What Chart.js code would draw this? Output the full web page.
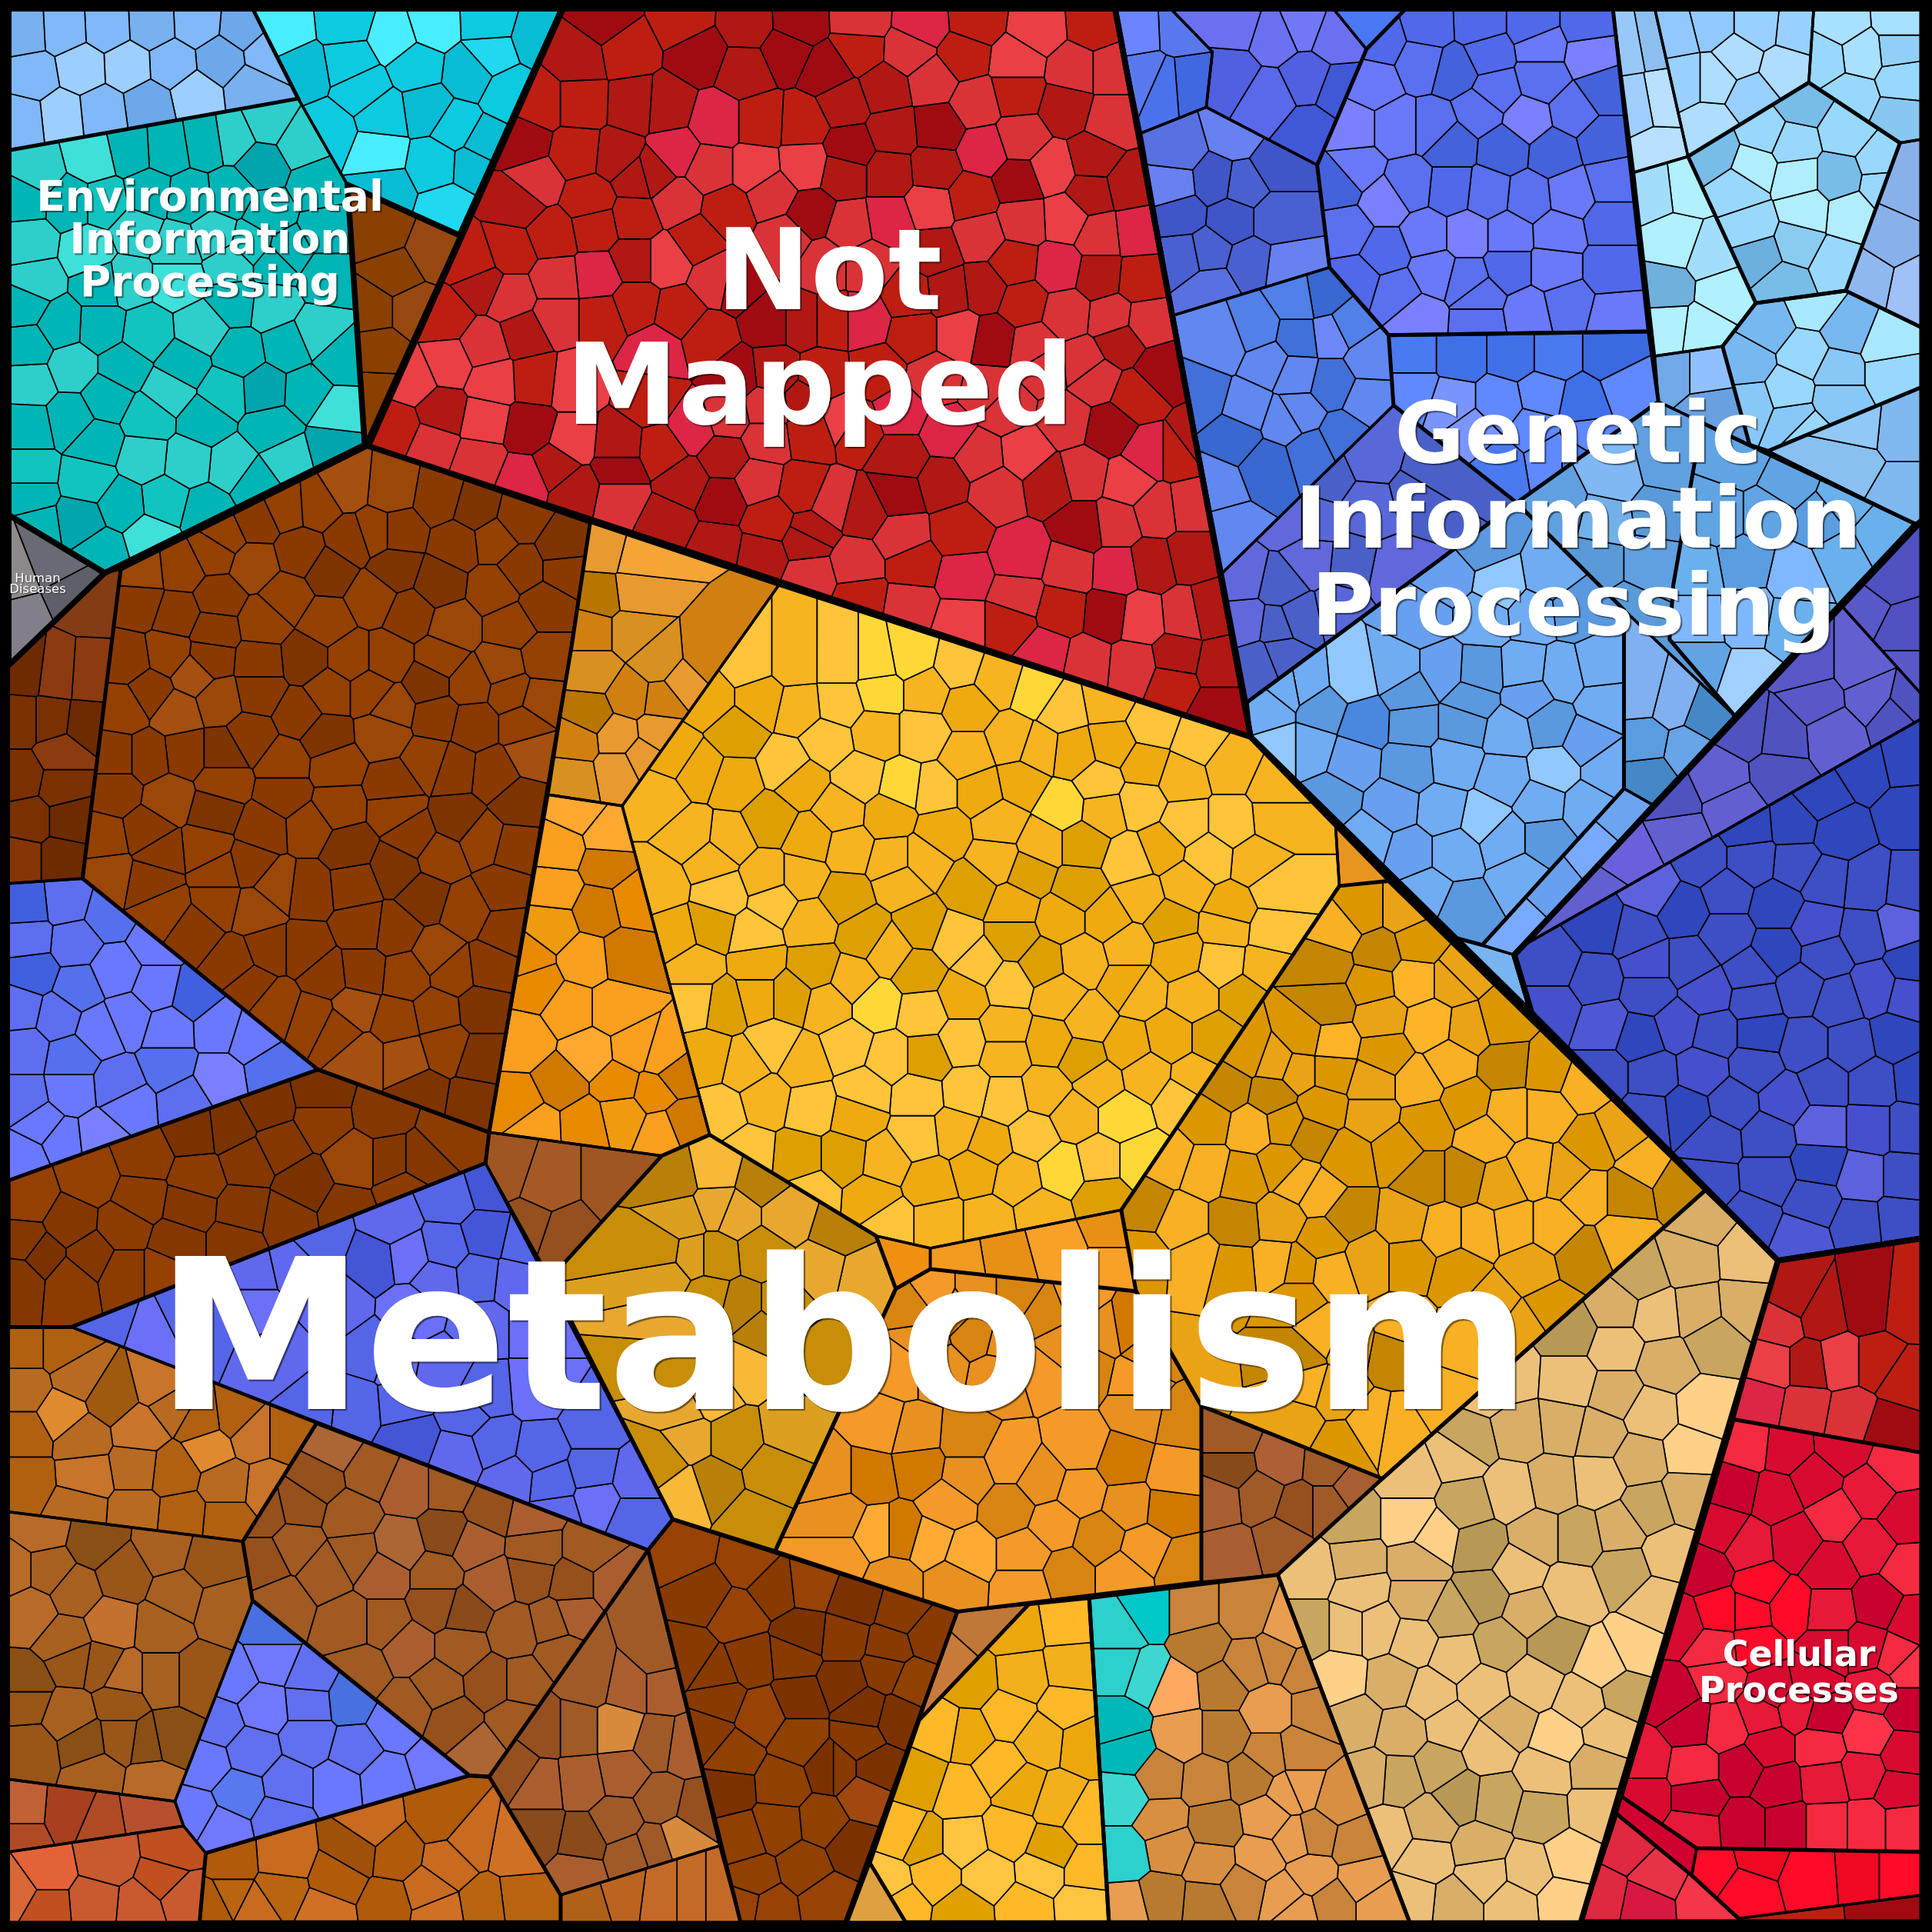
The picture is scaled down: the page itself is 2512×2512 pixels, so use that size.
<!DOCTYPE html>
<html>
<head>
<meta charset="utf-8">
<script src="https://cdn.jsdelivr.net/npm/chart.js@4/dist/chart.umd.js"></script>
<style>html,body{margin:0;background:#000}canvas{display:block}</style>
</head>
<body>
<canvas id="myChart" width="2512" height="2512"></canvas>
<script>
// Cell centres, one list per crop: [x, y, shade], x and y in crop pixels
const cropOrigins = [[0,0],[840,0],[1672,0],[0,840],[840,840],[1672,840],[0,1672],[840,1672],[1672,1672]];
const cropScale = 840 / 1568;

const seedsTopLeft = [
[60,75,2],[155,70,3],[260,65,3],[368,60,2],[478,55,3],[590,65,1],[80,185,3],[198,165,4],[310,160,4],[418,155,3],[535,145,1],[650,130,3],[55,290,3],[148,280,4],[248,270,3],[360,255,1],[475,230,4],[610,215,2],
[690,70,4],[840,55,2],[955,90,4],[1050,60,4],[1185,55,2],[1305,90,1],[735,170,1],[850,150,2],[1010,160,2],[1140,175,1],[1190,130,3],[1235,225,2],[880,215,2],[795,320,2],[930,280,2],[1035,265,1],[1105,310,2],[1175,350,1],[920,370,4],[1055,395,2],[1150,400,1],[930,460,1],[1090,510,3],
[90,420,3],[225,385,4],[315,365,1],[405,360,1],[500,345,1],[565,335,3],[650,295,3],[730,345,3],[635,400,0],[60,480,1],[170,490,1],[255,490,2],[360,470,1],[460,480,1],[560,470,1],[650,520,1],[770,450,1],
[70,590,3],[215,610,4],[330,560,3],[430,600,3],[520,570,3],[610,590,2],[700,610,1],[790,560,1],[85,680,3],[245,690,1],[310,680,3],[430,680,4],[560,640,3],[670,640,1],[790,670,1],
[60,740,1],[145,790,1],[245,795,1],[355,810,2],[490,800,3],[570,730,1],[660,740,3],[770,810,3],[70,840,1],[175,890,3],[300,890,1],[445,885,1],[580,860,1],[700,840,1],[825,870,1],
[75,930,3],[260,965,1],[410,950,3],[545,950,2],[640,945,0],[745,950,1],[820,1000,4],[70,1035,1],[170,1015,1],[360,1015,2],[495,1020,1],[660,1040,1],[810,1085,0],
[70,1145,2],[235,1075,1],[350,1110,3],[455,1120,3],[565,1130,3],[695,1115,3],[70,1200,1],[215,1165,2],[295,1225,1],[400,1215,2],[620,1170,1],[90,1280,1],[195,1265,0],[500,1240,1],[245,1340,1],[365,1305,4],
[35,1400,4],[125,1365,1],[60,1500,3],[170,1450,0],
[925,560,1],[1050,610,3],[960,665,1],[905,750,1],[1000,750,3],[920,850,1],[915,960,1],
[840,1180,4],[950,1190,3],[1065,1210,1],[1155,1235,0],[1260,1260,1],[1365,1330,0],[770,1225,2],[695,1230,2],[620,1265,1],[545,1300,2],
[345,1390,3],[440,1380,2],[520,1340,2],[615,1370,3],[730,1340,1],[850,1310,1],[910,1290,2],[970,1290,1],[1110,1320,1],[1200,1310,2],[1265,1380,1],[1370,1380,1],
[340,1460,1],[430,1490,1],[530,1450,1],[695,1450,2],[800,1385,0],[960,1380,0],[1065,1415,0],[1200,1430,2],[1320,1470,1],[225,1450,4],
[520,1530,1],[640,1510,2],[790,1510,2],[905,1450,2],[995,1490,1],[1100,1520,3],[1240,1520,2],
[1470,1330,3],[1550,1350,4],[1460,1450,0],[1540,1440,3],[1440,1530,1],[1530,1530,2],
[1470,50,0],[1405,140,1],[1520,120,2],[1310,250,2],[1410,250,2],[1540,255,1],[1270,345,0],[1400,370,2],[1500,380,1],[1300,440,3],[1430,485,2],[1545,430,1],[1260,490,1],[1340,570,2],[1445,550,2],[1540,530,2],
[1150,640,2],[1240,610,2],[1170,690,1],[1350,680,3],[1450,670,5],[1540,630,1],[1240,720,3],[1350,770,3],[1460,770,2],[1540,740,2],[1080,770,2],[1175,840,3],[1275,810,1],[1090,880,4],[1000,920,4],[1195,925,4],[1300,920,2],[1390,930,4],
[1075,1000,1],[960,1040,2],[1175,1020,4],[1285,1040,0],[1050,1080,3],[1390,1070,4],[1500,1080,1],[1160,1120,3],[1270,1165,5],[1350,1130,1],[1400,1190,1],[1500,1210,3],[1500,1140,0]
];

const seedsTopMiddle = [
[90,50,2],[245,60,1],[370,55,0],[520,50,3],[670,60,5],[800,50,2],[950,70,4],[1090,60,2],[130,130,0],[240,170,1],[340,125,0],[440,170,0],[515,120,2],[640,125,3],[770,135,2],[900,150,4],[1040,170,3],[1130,170,3],
[50,260,1],[170,295,5],[280,295,2],[380,300,2],[480,250,1],[580,215,1],[695,195,3],[800,250,3],[900,225,2],[1020,260,1],[1130,290,3],[70,370,5],[155,410,3],[265,410,4],[385,400,4],[495,360,0],[600,320,1],[710,310,0],[910,335,3],[1085,385,1],[820,365,5],
[15,420,1],[75,490,3],[195,510,2],[305,470,3],[400,520,0],[480,420,1],[590,420,1],[700,410,1],[790,480,2],[905,440,0],[985,410,4],[1080,470,1],[1170,450,1],[120,580,2],[495,550,3],[590,535,5],[690,500,4],[915,535,3],[1020,530,4],[1100,570,3],[1190,560,5],
[50,630,4],[170,680,3],[340,580,3],[430,640,3],[540,640,3],[700,610,1],[810,570,3],[895,640,2],[1000,650,5],[1100,670,1],[1200,680,2],[80,760,2],[220,690,0],[300,780,0],[380,780,1],[450,780,2],[530,780,5],[640,720,2],[735,710,1],[820,700,1],[915,735,2],[1020,760,3],[1130,770,3],[1215,780,3],
[150,820,2],[650,810,2],[760,810,4],[840,825,0],[940,840,3],[1060,880,3],[1150,830,1],[1250,900,0],[25,850,5],[220,910,0],[310,900,1],[430,910,2],[560,900,2],[700,920,3],[830,950,3],[970,890,3],[1090,920,3],[1190,960,2],
[10,970,2],[110,1040,5],[200,1010,3],[290,990,3],[390,980,1],[480,1020,4],[620,1000,5],[730,1050,5],[870,990,3],[1020,1020,3],[1125,1040,0],[1220,1100,5],[1290,1100,2],[40,1090,2],[190,1110,1],[290,1065,3],[400,1050,2],[510,1040,2],[620,1110,1],[810,1110,3],[920,1100,4],[1060,1150,3],[1170,1170,4],
[95,1170,1],[185,1210,0],[270,1170,3],[380,1190,2],[450,1220,3],[610,1200,0],[720,1170,1],[850,1190,3],[980,1170,1],[1140,1270,3],[1240,1240,3],[1320,1230,3],[50,1270,1],[300,1260,2],[400,1290,1],[530,1240,1],[620,1300,3],[760,1290,2],[1060,1280,0],[1230,1370,1],[1320,1350,1],
[170,1330,1],[280,1350,1],[510,1370,3],[650,1370,2],[770,1400,5],[910,1350,5],[1030,1380,3],[1140,1385,5],[1360,1480,1],[390,1310,1],[400,1400,3],[520,1450,2],[640,1470,3],[765,1510,4],[880,1510,2],[900,1450,3],[1010,1480,2],[1120,1490,0],[1200,1500,4],[1310,1490,3],
[1190,70,3],[1300,65,2],[1210,190,2],[1255,210,1],[1320,205,0],[1430,60,3],[1525,90,3],[1420,180,1],[1510,235,2],
[1290,365,2],[1430,325,3],[1530,400,0],[1280,450,3],[1380,440,0],[1450,450,1],[1300,520,0],[1420,530,0],[1530,530,1],[1360,610,1],[1470,640,1],[1310,620,1],[1370,700,2],[1550,650,3],
[1400,830,3],[1480,800,2],[1350,960,1],[1460,990,3],[1510,880,3],[1330,1070,1],[1430,1060,0],[1550,1020,3],[1380,1180,3],[1510,1130,0],[1410,1290,3],[1560,1260,3],
[1450,1400,3],[1540,1420,1],[1460,1510,3],[1530,1520,1]
];

const seedsTopRight = [
[40,60,4],[120,90,3],[50,190,1],[130,220,0],[60,320,0],[200,60,0],
[230,100,1],[345,65,1],[470,60,1],[600,60,1],[730,60,1],[330,150,2],[410,170,0],[490,130,1],[620,110,3],[740,130,4],[210,200,3],[510,220,2],[620,190,2],[770,220,0],
[160,310,4],[270,310,3],[360,310,2],[470,270,2],[585,290,4],[700,270,2],[770,340,0],[170,410,3],[400,350,0],[530,360,0],[650,370,0],[130,445,0],[300,450,2],[400,460,1],[490,470,2],[590,480,2],[690,470,3],[790,440,2],
[240,490,4],[150,560,2],[340,570,3],[440,570,4],[540,570,3],[660,565,3],[790,540,1],[240,610,1],[440,680,2],[540,650,1],[650,650,3],[790,650,1],[170,680,1],[270,710,2],[360,660,3],[470,720,2],[590,760,3],[680,740,2],[800,770,3],[320,770,4],[470,780,2],
[30,730,2],[90,720,0],[150,790,2],[30,820,1],[110,810,4],[205,870,3],[25,910,3],[110,930,1],[30,1000,3],[200,970,3],[140,1060,1],[60,1100,1],
[210,1110,2],[100,1160,1],[350,1150,1],[70,1260,2],[200,1230,2],[320,1200,1],[60,1360,3],[160,1370,1],[260,1390,3],[30,1500,1],[130,1480,2],
[310,860,2],[420,860,1],[555,860,1],[650,860,2],[790,860,0],[310,950,3],[400,980,4],[520,980,3],[620,960,3],[720,980,1],[830,940,3],[450,1050,4],[600,1040,3],[730,1060,3],[520,1130,2],[640,1110,3],
[830,100,2],[885,90,1],[855,260,3],[910,250,4],[905,365,4],
[950,80,2],[1030,60,2],[1145,60,3],[1240,70,3],[970,190,3],[1040,190,4],[1095,140,4],[1210,170,4],[1130,235,3],[1030,310,4],
[1350,60,4],[1490,50,4],[1310,140,3],[1395,130,4],[1490,120,2],[1500,190,3],[1370,235,3],[1490,290,1],
[1250,250,1],[1160,320,3],[1040,370,1],[1135,405,4],[1230,350,3],[1360,320,3],[1240,430,4],[1340,430,1],[1445,390,3],[1100,460,3],[1260,510,4],[1370,520,4],[1130,550,3],[1150,620,0],[1240,590,2],[1335,640,3],[1210,690,1],
[890,460,3],[975,450,4],[945,590,4],[1030,620,3],[925,700,0],[1060,710,4],[930,790,4],[1010,800,4],
[1450,450,3],[1530,450,1],[1470,590,1],[1420,670,2],[1520,690,3],
[1280,740,4],[1170,790,1],[1260,860,3],[1360,800,1],[1460,840,4],[1120,880,1],[1340,900,2],[1220,950,3],[1340,970,2],[1470,900,3],[1130,980,2],[1230,1020,2],
[945,900,1],[1015,900,2],[1030,1000,0],
[1260,1050,3],[1390,1030,3],[1490,1040,1],[1370,1130,2],[1490,1200,1],
[700,1110,2],[800,1160,3],[920,1130,1],[660,1230,1],[780,1260,2],[900,1240,0],[760,1370,0],[880,1370,1],[830,1480,0],
[1100,1110,1],[1220,1170,1],[1350,1220,2],[1050,1250,1],[1170,1250,1],[1300,1260,0],[1440,1300,2],[1000,1390,2],[1110,1370,0],[1240,1400,3],[1350,1350,2],[1000,1500,3],[1120,1490,3],[1230,1510,2],
[480,1320,1],[390,1400,2],[520,1420,4],[640,1400,3],[330,1500,2],[480,1500,3],[600,1490,3],[700,1480,1],
[1400,1480,2],[1460,1400,1],[1500,1530,1]
];

const seedsMiddleLeft = [
[60,60,0],[140,70,3],[215,75,3],[50,180,1],[125,180,1],[205,190,0],[150,260,3],[50,320,1],[150,340,1],[70,420,1],[170,420,0],[50,520,2],[150,520,0],
[310,35,1],[410,20,2],[510,30,1],[630,40,1],[740,30,0],[850,30,2],[940,30,2],[1070,30,2],[1220,50,3],[1320,30,2],[365,110,1],[470,70,4],[630,110,1],[725,165,1],[800,110,2],[900,110,2],[950,150,3],[1040,90,0],[1140,90,2],[1240,110,2],[1310,130,3],
[300,150,2],[430,160,4],[530,130,3],[610,220,1],[790,220,0],[930,210,3],[1060,170,1],[1150,190,1],[1270,190,2],[1290,260,4],[280,270,1],[360,270,1],[450,260,1],[540,260,0],[690,280,2],[815,290,2],[955,340,1],[1040,280,2],[1100,300,1],[1200,310,1],[1260,380,0],
[280,350,1],[410,370,3],[540,330,2],[690,360,1],[820,390,2],[960,395,2],[1110,420,0],[250,470,2],[360,450,1],[520,400,0],[640,445,1],[750,440,2],[845,490,0],[1000,460,1],[1170,470,2],[1250,490,1],
[390,500,1],[500,490,2],[530,550,2],[670,580,3],[610,530,1],[860,580,1],[960,540,0],[1070,510,2],[1220,590,1],[260,550,3],[370,570,1],[400,640,2],[470,690,1],[530,620,2],[620,640,3],[750,590,1],[1030,610,0],[1130,640,2],[1230,690,1],
[880,680,1],[960,690,1],[1060,745,3],[1190,780,1],[1100,790,2],[740,740,1],[650,740,1],[570,770,1],[790,800,1],[880,790,1],[985,800,2],[670,870,2],[610,820,1],[760,900,2],[820,930,2],[860,880,4],[960,910,2],[1060,890,2],[1170,880,0],[880,1000,4],[980,1000,4],[1080,970,2],[1170,1000,0],[1020,1090,0],[1150,1110,0],
[65,630,0],[160,620,2],[265,650,1],[70,710,2],[180,720,2],[380,720,3],[80,790,0],[280,790,3],[380,830,3],[190,830,1],[470,850,0],[50,880,2],[140,900,2],[240,930,3],[310,900,3],[410,930,3],[530,925,3],[610,950,3],[60,980,2],[170,1000,1],[410,1020,1],[530,1050,4],[660,1030,1],[60,1100,2],[170,1080,3],[290,1070,2],[310,1110,3],[450,1100,2],[100,1160,3],[240,1190,4],[60,1240,3],[150,1200,3],
[780,1090,0],[650,1120,0],[780,1150,2],[930,1130,1],[1090,1180,2],[560,1170,0],[680,1210,1],[470,1180,0],[860,1250,4],[950,1250,1],[1020,1250,1],[980,1320,2],[350,1240,2],[220,1290,3],[480,1290,2],[740,1310,0],[600,1250,1],[840,1370,1],[70,1340,3],[340,1340,2],[170,1400,1],[460,1360,1],[590,1370,1],[700,1390,1],[60,1450,1],[300,1410,2],[100,1480,0],[220,1480,1],[430,1450,1],[570,1450,1],[50,1530,1],[170,1540,2],[300,1520,2],[400,1520,3],
[1190,1310,0],[1090,1340,1],[950,1400,2],[1180,1430,0],[1080,1460,1],[990,1480,3],[910,1490,0],[780,1440,1],[710,1510,2],[1160,1530,1],[1270,1450,1],[1250,1540,2],[1060,1540,2],[620,1530,2],
[1230,1280,2],[1320,1310,3],[1500,1310,2],[1280,1400,1],[1370,1430,1],
[1400,400,4],[1475,460,4],[1360,490,3],[1470,530,0],[1350,590,3],[1450,640,0],[1540,620,1],[1340,680,2],[1280,760,1],[1420,760,3],[1520,750,0],[1300,820,1],[1385,880,3],[1490,880,3],[1270,960,3],[1430,990,4],[1540,980,3],[1360,1060,0],[1500,1060,1],[1260,1110,1],[1300,1165,3],[1420,1160,1],[1510,1140,2],
[1440,60,2],[1430,165,0],[1530,120,1],[1400,230,1],[1500,220,3],[1390,320,2],[1500,300,3],[1560,270,3]
];

const seedsCentre = [
[90,90,3],[30,40,2],[40,130,1],[30,210,3],[150,30,1],
[970,20,5],[1070,40,3],[1180,50,3],[1280,90,2],[1390,150,0],[1290,30,1],[1390,50,1],[1490,40,1],[1540,20,1],[1510,150,3],[1550,100,3],[1540,250,4],
[250,40,3],[360,40,2],[470,40,3],[560,40,4],[640,25,4],[760,50,3],[150,130,1],[280,130,1],[370,150,2],[470,140,3],[570,110,4],[680,110,2],[780,145,1],[850,80,2],[950,110,4],[1010,150,3],[1120,130,2],
[70,260,1],[220,210,0],[440,230,3],[560,210,2],[670,210,3],[780,270,2],[890,230,2],[950,250,2],[1040,260,1],[1130,240,1],[1230,190,3],[1340,230,3],[340,290,3],[130,300,1],[215,330,1],[520,320,3],[620,340,4],[700,350,3],[810,350,1],[910,330,1],[1100,330,3],[1210,290,1],[1300,320,2],[1420,290,2],[1530,340,2],
[30,370,2],[300,420,0],[375,330,1],[470,400,2],[590,410,1],[720,450,1],[860,430,2],[1010,390,4],[1110,400,2],[1200,380,3],[1310,430,3],[1420,430,3],[1530,420,2],[110,460,2],[200,470,2],[400,470,1],[490,490,2],[600,520,2],[670,520,2],[850,520,2],[960,480,2],[1060,480,0],[1175,520,3],[1250,490,1],[1365,510,3],[1480,520,2],
[30,580,2],[160,520,2],[290,560,2],[380,560,2],[480,610,0],[620,570,2],[790,590,0],[930,550,0],[1050,590,0],[1200,610,2],[1310,580,2],[1420,640,1],[1530,590,3],[185,600,3],[310,620,3],[890,630,1],[1010,660,1],[1120,660,1],[1270,670,0],[1410,680,2],[1520,690,3],
[70,700,1],[160,680,0],[260,700,3],[400,670,2],[530,700,0],[590,740,2],[670,680,0],[750,710,3],[890,710,0],[1170,730,2],[1290,750,1],[1400,770,3],[1500,780,2],[120,780,2],[270,770,1],[410,780,0],[500,810,2],[660,790,0],[810,770,3],[960,770,0],[1060,760,2],[1170,820,1],[1330,850,2],[1450,850,0],[1200,840,2],
[120,860,3],[190,870,0],[270,850,1],[350,850,0],[440,870,2],[560,870,4],[670,890,3],[770,850,1],[880,820,3],[1000,850,2],[1075,910,2],[1170,970,1],[1270,950,1],[1380,950,0],[150,1000,1],[240,1020,2],[310,970,3],[380,1010,2],[490,970,3],[590,1000,3],[680,1000,0],[770,960,3],[870,930,2],[870,990,2],[980,960,1],[1060,1000,0],[1215,1040,2],[1330,1050,2],
[180,1130,3],[290,1100,2],[400,1120,3],[530,1080,3],[510,1140,1],[660,1090,3],[780,1080,3],[870,1100,3],[970,1080,2],[1100,1060,2],[1300,1100,3],[250,1230,3],[370,1240,0],[480,1240,0],[580,1250,2],[660,1190,3],[750,1180,2],[830,1210,1],[940,1190,3],[1040,1140,2],[1155,1140,4],
[400,1330,3],[550,1340,1],[590,1400,3],[690,1300,1],[800,1270,1],[900,1290,2],[1010,1270,4],[1100,1250,3],[1200,1250,4],[710,1400,2],[830,1400,2],[960,1380,2],[1110,1340,0],
[40,1000,3],[70,1040,0],[90,1160,0],[40,1180,3],[20,1080,1],
[165,1270,4],[70,1290,0],[280,1300,0],[170,1360,3],[90,1390,2],[220,1380,3],[340,1380,3],[470,1420,0],[40,1470,1],[110,1480,2],[170,1480,1],[280,1470,1],[430,1510,3],[520,1530,3],[50,1530,2],
[625,1510,3],[760,1510,2],[880,1490,1],[990,1460,3],[1130,1400,1],[1130,1520,3],
[1460,985,1],[1530,1010,2],[1410,1070,0],[1520,1090,0],[1360,1150,1],[1470,1170,3],[1550,1160,1],[1270,1240,3],[1360,1270,3],[1450,1290,1],[1540,1260,1],[1210,1360,0],[1300,1400,3],[1430,1400,0],[1540,1390,2],[1200,1480,1],[1340,1490,3],[1420,1510,1],[1530,1500,3]
];

const seedsMiddleRight = [
[50,90,3],[160,80,4],[270,60,3],[380,60,2],[470,65,1],[580,60,3],[760,50,3],[90,150,1],[190,185,0],[300,110,1],[450,130,1],[590,120,2],[670,70,3],[60,250,3],[160,280,2],[310,190,1],[430,190,1],[540,210,3],[640,190,1],[770,140,3],
[300,290,1],[410,280,3],[530,320,3],[650,300,4],[730,230,2],[780,300,3],[110,370,1],[260,390,2],[380,400,3],[480,420,4],[620,380,3],[730,390,3],[200,470,3],[300,500,2],[410,500,3],[530,470,3],[630,470,1],[340,600,3],[430,640,1],[570,560,3],
[815,410,2],[745,490,3],[640,575,1],[550,670,3],[510,780,2],
[860,120,3],[940,140,3],[1020,170,0],[870,230,1],[975,250,2],[880,320,0],[1120,90,4],[1000,50,1],
[1270,50,2],[1390,50,3],[1290,130,2],[1420,120,3],[1200,220,1],[1330,210,3],[1480,170,1],[1120,210,1],[1060,320,3],[1190,310,1],[1090,385,3],[930,380,1],[940,450,3],[840,500,4],[760,620,3],[1500,60,2],[1510,140,1],
[1500,280,0],[1410,300,0],[1300,370,0],[1510,400,0],[1120,440,0],[1235,430,0],[1340,450,0],[1010,520,1],[1130,520,1],[1240,530,1],[1310,570,1],[1410,580,1],[1510,590,1],
[890,590,4],[965,640,0],[1070,600,1],[1190,630,0],[1290,680,2],[1400,700,1],[1490,680,4],[760,680,0],[850,700,1],[1070,700,1],[1190,740,0],[1310,750,1],[1520,770,0],
[650,770,1],[750,810,1],[880,770,2],[980,770,1],[1130,790,1],[1250,830,1],[1340,860,1],[1430,830,2],[1510,850,2],[650,880,2],[770,920,3],[880,840,1],[1020,840,2],[1140,860,1],
[860,950,0],[950,920,2],[1040,940,1],[1150,940,0],[1260,970,1],[1370,970,1],[1480,950,0],[1530,1050,0],[770,1040,1],[890,1040,1],[1010,1030,2],[1140,1020,1],[1305,1060,1],[1425,1060,1],
[970,1130,0],[880,1140,1],[1085,1110,1],[1210,1100,2],[1300,1170,4],[1420,1170,2],[1510,1170,1],[1040,1200,1],[1170,1190,1],[1295,1255,0],[1400,1290,4],[1500,1290,1],[1030,1300,1],[1170,1290,1],[1280,1350,1],[1390,1400,1],[1490,1390,1],[1130,1390,1],[1250,1440,3],
[180,520,1],[185,640,1],[285,640,2],[125,690,3],[225,745,0],[320,720,1],[410,810,2],[100,770,0],[210,820,1],[310,810,4],[420,800,2],[105,870,0],[230,900,2],[350,920,4],[445,930,2],[40,950,1],[115,965,4],[240,990,1],[400,1010,3],[520,910,1],[30,1030,2],
[110,1030,1],[210,1060,2],[320,1060,3],[440,1110,1],[530,1020,0],[640,1030,1],[85,1120,1],[210,1140,2],[340,1160,1],[480,1190,3],[540,1130,3],[630,1130,3],[720,1060,3],[60,1190,0],[150,1240,1],[270,1220,1],[340,1290,0],[430,1290,0],[520,1310,2],[600,1270,3],[680,1280,2],[740,1210,1],[810,1180,2],[870,1260,3],
[30,1300,3],[80,1330,3],[150,1385,0],[290,1400,2],[380,1420,3],[470,1420,3],[550,1410,3],[650,1410,3],[730,1330,3],[830,1330,0],[950,1310,0],[90,1440,1],[200,1490,2],[300,1490,1],[420,1520,1],[590,1510,2],[720,1480,0],[820,1440,3],[30,1510,1],[110,1520,3],
[1010,1390,2],[980,1490,2],[1120,1480,3],[860,1530,1]
];

const seedsBottomLeft = [
[250,100,1],[370,140,3],[470,90,1],[620,40,3],[680,180,2],[820,50,2],[760,280,1],[900,160,1],[1000,60,3],[960,180,3],[1070,200,2],[1170,100,2],[1180,260,1],[1300,100,3],[1300,250,3],[1440,190,2],[980,280,1],[860,290,1],[1130,310,1],[1000,370,0],[1110,410,2],[1200,380,1],[1310,400,1],[1440,340,1],[1240,470,2],[1340,480,1],[1440,450,1],[1450,520,3],[1540,470,2],[1540,560,1],
[60,150,1],[150,150,1],[60,250,2],[270,270,0],[190,220,2],[390,240,3],[150,310,4],[60,360,1],[200,370,2],[340,350,3],[510,390,4],[610,360,3],[700,360,1],[60,470,1],[210,460,3],[330,440,2],[420,450,1],[550,480,2],[650,490,3],[190,540,2],[330,550,2],[440,560,1],[550,570,1],[490,330,1],[420,290,2],[570,320,1],
[100,590,3],[230,620,0],[400,640,2],[510,670,1],[30,690,3],[120,690,2],[300,700,1],[430,750,2],[540,780,2],[180,740,2],[75,790,3],[270,820,4],[160,860,2],[390,830,2],[60,970,0],[180,910,1],[245,920,1],[300,950,3],[390,950,2],[480,950,1],[60,1000,1],[170,1040,2],[290,1010,1],[410,1100,0],[70,1130,1],[210,1110,0],[290,1100,1],[360,1110,0],[235,1180,2],[370,1200,3],
[810,390,4],[770,470,1],[900,450,2],[990,490,3],[1090,490,2],[1190,540,1],[1290,560,3],[1350,550,2],[1430,640,2],[640,550,1],[730,530,1],[850,560,2],[970,630,4],[1080,600,0],[1150,630,3],[1300,640,2],[1390,720,1],[1490,720,3],
[640,670,1],[720,630,2],[790,690,2],[860,650,2],[930,700,3],[1060,700,2],[1190,720,3],[1290,700,1],[1395,800,3],[680,770,2],[850,820,2],[930,820,2],[1060,770,1],[1130,790,0],[1250,840,2],[1340,820,2],[990,880,3],[1120,880,2],[1270,960,2],[1360,890,2],[880,930,2],[1060,970,2],[1190,960,1],[990,1020,2],[1100,1060,1],[1250,1060,2],[1160,1130,4],
[660,830,0],[660,910,4],[755,950,2],[850,1000,0],[570,950,3],[640,1020,4],[750,1010,2],[960,1060,3],[530,1060,2],[610,1130,2],[750,1100,2],[860,1130,2],[500,1160,3],[580,1230,1],[700,1210,2],[820,1210,3],[930,1200,3],[1060,1160,4],[470,1280,3],[540,1320,4],[680,1290,2],
[50,1270,3],[50,1340,1],[170,1280,0],[240,1310,1],[360,1290,2],
[110,1420,4],[40,1470,3],[260,1390,2],[420,1370,1],[400,1440,1],[110,1510,1],[230,1500,2],[340,1510,2],[440,1480,2],
[560,1400,1],[690,1390,3],[900,1310,3],[860,1370,0],[960,1380,1],[1070,1290,1],[1140,1350,3],[1250,1370,4],[1090,1400,3],[680,1470,2],[560,1480,2],[820,1440,1],[940,1500,1],[1040,1470,3],[790,1520,4],[1060,1520,4],[1180,1500,2],[1260,1490,2],[520,1500,1],[620,1510,3],
[1320,1080,1],[1400,1080,2],[1500,1080,4],[1430,950,2],[1530,970,3],[1250,1170,1],[1310,1210,3],[1410,1200,3],[1510,1180,3],[1310,1330,0],[1410,1350,0],[1400,1420,3],[1500,1300,2],[1530,1380,2],
[1420,1510,1],[1520,1480,2]
];

const seedsBottomMiddle = [
[70,70,3],[60,200,1],[150,30,1],[230,50,0],[280,110,0],[330,50,1],[240,200,4],[420,180,1],[80,300,3],[160,260,4],[100,370,3],[215,370,1],[350,350,2],[40,420,1],[160,480,0],[310,450,1],[100,500,4],[260,570,1],
[660,60,1],[620,200,3],[700,200,2],[800,30,2],[800,100,1],[860,230,2],[960,70,1],[1060,30,3],[1110,100,2],[1060,200,1],[1170,90,0],[1200,230,3],[1230,170,1],[1300,200,2],[1200,300,2],[1300,320,1],[570,340,3],[450,460,2],[545,460,0],[660,440,0],[650,360,2],[780,370,1],[780,460,2],[880,420,3],[960,470,2],[1050,390,3],[1160,430,0],[1280,460,3],
[760,60,1],[880,120,2],[670,130,2],[900,30,1],[700,30,3],[1000,150,2],[960,200,3],
[470,560,2],[560,600,4],[730,530,3],[880,540,1],[990,580,3],[1055,500,3],[1170,530,2],[1270,540,0],[470,660,3],[620,600,0],[690,620,4],[780,650,4],[920,650,3],[1100,610,1],[1210,640,3],[1300,680,1],[600,720,2],[745,720,2],[920,730,3],[1020,700,1],[1160,700,3],
[1420,370,2],[1540,420,4],[1390,520,3],[1490,510,2],[1420,650,3],[1540,620,2],[1420,440,0],
[90,640,3],[250,670,3],[400,720,3],[510,760,0],[620,790,1],[140,750,1],[220,800,3],[310,730,1],[380,850,0],[480,860,1],[590,880,1],[690,850,1],[110,900,1],[170,940,1],[250,910,1],[360,900,1],[480,960,0],[580,930,1],[650,960,2],
[180,1000,1],[280,1040,3],[370,1000,0],[530,1030,0],[520,1100,1],[610,1050,0],[150,1090,1],[210,1140,2],[370,1100,2],[460,1170,1],[560,1170,0],[200,1220,0],[330,1210,2],[450,1170,0],[530,1240,4],[230,1340,2],[320,1310,2],[430,1300,2],[500,1360,0],[260,1440,2],[385,1410,2],[300,1510,3],[440,1490,3],[240,1500,3],
[830,830,1],[740,930,3],
[900,830,1],[1020,810,3],[790,960,0],[915,950,2],[1030,930,2],[880,1040,3],[1020,1020,3],[720,1080,3],[780,1090,1],[960,1100,2],[1060,1110,1],[860,1170,3],[670,1200,0],[760,1230,3],[910,1220,1],[1000,1250,2],[1070,1290,3],[630,1330,3],[670,1350,0],[770,1350,4],[880,1330,3],[980,1370,0],[1070,1420,3],[590,1450,4],[700,1430,3],[830,1430,4],[960,1420,4],[1060,1500,4],[770,1520,0],[920,1510,3],[620,1500,3],
[560,1490,0],
[1150,830,6],[1210,790,5],[1150,930,6],[1210,950,7],[1150,1060,8],[1170,1130,8],[1160,1240,7],[1160,1380,6],
[1330,790,1],[1450,790,1],[1350,870,0],[1460,920,1],[1530,900,1],[1280,980,4],[1400,970,0],[1510,1030,3],[1300,1090,3],[1400,1090,0],[1510,1140,1],[1245,1190,1],[1360,1200,1],[1470,1190,0],[1560,1230,3],[1250,1300,2],[1270,1360,2],[1380,1310,0],[1510,1290,3],[1370,1400,2],[1490,1390,3],[1250,1490,0],[1360,1500,0],[1450,1460,1],[1550,1480,3],[1170,1510,3],
[25,900,2],[40,970,3],[25,1110,2],[95,1120,3],[35,1250,2],[125,1270,1],[80,1340,4],[20,1360,2],
[30,1490,3],[120,1490,3],[170,1490,3]
];

const seedsBottomRight = [
[30,30,1],[85,110,3],[155,140,2],[30,170,0],[260,160,0],[280,100,3],[120,260,2],[210,340,3],[50,240,3],[25,330,2],[130,390,1],[270,350,3],[430,130,3],[490,240,3],[500,40,2],[640,60,1],[580,100,2],[380,280,3],
[100,430,2],[170,490,3],[30,540,1],[100,540,2],
[800,50,2],[900,70,3],[1000,60,2],[1110,50,2],[690,110,0],[800,150,3],[920,190,2],[1040,130,1],[690,230,3],[800,260,2],[885,310,3],[1015,300,4],[540,220,3],[670,340,2],[760,360,2],[860,420,2],[980,400,4],
[440,380,1],[570,350,2],[300,460,3],[420,410,3],[440,530,1],[545,500,3],[650,480,2],[755,470,3],[880,540,1],[975,510,2],[160,570,1],[300,570,4],[360,610,4],[470,630,0],[565,690,3],[610,610,2],[710,610,1],[810,590,2],[930,650,3],
[170,670,2],[320,670,2],[180,740,3],[320,760,2],[400,800,1],[480,750,0],[590,790,2],[690,740,3],[820,690,1],[900,770,3],[60,690,3],[60,830,1],[150,830,3],[220,830,3],[310,860,3],[520,870,1],[650,870,0],[770,920,4],[850,880,4],
[130,950,4],[260,960,2],[350,990,3],[410,900,3],[480,980,3],[600,960,3],[720,1010,3],[820,990,1],[170,1060,2],[280,1085,2],[400,1070,3],[540,1060,2],[660,1100,4],[780,1080,3],[205,1190,2],[275,1195,1],[370,1165,1],[490,1120,3],[630,1180,3],[750,1170,2],
[420,1240,0],[510,1250,1],[620,1280,1],[250,1330,3],[350,1300,2],[750,1270,3],[470,1365,2],[590,1420,3],[690,1390,4],[340,1390,3],[310,1490,3],[410,1500,2],[480,1430,3],[550,1500,3],[670,1490,4],
[1230,30,1],[1300,70,1],[1410,50,0],[1510,60,2],[1200,90,3],[1175,190,4],[1340,180,4],[1270,190,1],[1440,180,2],[1500,220,2],[1150,280,5],[1260,300,3],[1370,320,3],[1460,350,0],
[1120,390,3],[1215,400,1],[1350,390,1],[1480,440,3],[1090,490,0],[1190,510,1],[1280,470,1],[1420,500,2],[1500,560,1],[1060,590,1],[1120,630,2],[1240,620,1],[1330,560,3],[1415,630,2],[1510,690,3],[1020,690,0],[1150,730,5],[1320,680,1],[1440,770,0],[1520,810,1],[960,820,1],
[1050,790,5],[1130,790,5],[1220,780,5],[1320,790,2],[1480,900,3],[1040,880,3],[1140,870,5],[1320,880,1],[1410,880,1],[1510,930,4],[940,1000,0],[1050,950,3],[1180,980,1],[1280,960,1],[1430,980,2],[1510,1020,0],[980,1060,0],[1070,1070,3],[1150,1040,2],[1240,1020,2],[1310,1040,0],[1410,1090,4],
[870,1150,2],[990,1170,3],[1110,1170,0],[1170,1120,1],[1300,1120,3],[1400,1180,2],[1500,1140,1],[870,1240,1],[1000,1240,0],[1190,1210,0],[1310,1200,2],[1490,1220,1],[990,1320,2],[1115,1310,0],[1210,1310,0],[1315,1310,3],[1410,1310,3],[1500,1310,3],
[1035,1410,5],[1150,1380,1],[1120,1470,5],[1270,1430,5],[1400,1420,1],[1480,1420,5],
[900,1340,1],
[830,1360,2],[900,1430,3],[770,1480,2],[870,1500,1],[1020,1490,4],
[1240,1530,2],[1470,1510,0],
[10,830,3],[45,930,1],[70,1030,1],[30,1130,1],[30,1220,3],[130,1250,2],[70,1330,1],[170,1350,1],[60,1430,3],[190,1440,3],[110,1500,1],[230,1500,3],[30,1520,3],[20,1340,3]
];

const cropSeeds = [seedsTopLeft, seedsTopMiddle, seedsTopRight, seedsMiddleLeft, seedsCentre, seedsMiddleRight, seedsBottomLeft, seedsBottomMiddle, seedsBottomRight];

// Region outlines, read at the 1568 preview scale
const previewScale = 2512 / 1568;
const regionShapes = {
  E1:[[7,7],[205,7],[242,80],[7,122]],
  E2:[[205,7],[456,7],[373,191],[282,150],[242,80]],
  E3:[[7,122],[242,80],[282,150],[296,361],[85,465],[7,418]],
  B0:[[282,150],[373,191],[296,361]],
  HD:[[7,418],[85,465],[7,540]],
  NM:[[457,7],[905,7],[1015,598],[299,362]],
  G1:[[905,7],[950,7],[984,42],[979,87],[926,108]],
  G2:[[950,7],[1082,7],[1109,40],[1069,134],[979,87],[984,42]],
  G3:[[1082,7],[1141,7],[1109,40]],
  G4:[[1109,40],[1141,7],[1309,7],[1338,269],[1127,272],[1079,217],[1069,134]],
  G5:[[926,108],[979,87],[1069,134],[1079,217],[952,256]],
  G6:[[952,256],[1079,217],[1127,272],[1131,329],[992,465]],
  G7:[[992,465],[1131,329],[1231,408],[1012,570]],
  G8:[[1127,272],[1338,269],[1346,326],[1231,408],[1131,329]],
  G9a:[[1309,7],[1343,7],[1370,127],[1326,140]],
  G9b:[[1343,7],[1472,7],[1468,67],[1370,127]],
  G9c:[[1472,7],[1560,7],[1560,113],[1542,116],[1468,67]],
  G9d:[[1370,127],[1468,67],[1542,116],[1498,236],[1425,246]],
  G9e:[[1326,140],[1370,127],[1425,246],[1398,281],[1343,289]],
  G9f:[[1542,116],[1560,113],[1560,266],[1498,236]],
  G9g:[[1425,246],[1498,236],[1560,266],[1560,314],[1435,366],[1420,361],[1398,281]],
  G9h:[[1343,289],[1398,281],[1420,361],[1346,326]],
  G9i:[[1435,366],[1560,314],[1560,422],[1554,425]],
  G10:[[1231,408],[1318,495],[1318,640],[1203,767],[1181,761],[1015,598],[1012,570]],
  G11:[[1181,761],[1229,775],[1243,822]],
  G12:[[1203,767],[1318,640],[1341,653],[1229,775]],
  G13:[[1318,495],[1408,581],[1341,653],[1318,640]],
  G14:[[1381,343],[1554,425],[1408,581],[1355,519],[1358,475]],
  G15:[[1231,408],[1346,326],[1381,343],[1358,475],[1355,519],[1408,581],[1318,495]],
  Pa:[[1494,491],[1554,425],[1560,422],[1560,564]],
  Pb:[[1229,775],[1408,581],[1494,491],[1560,564],[1560,583],[1237,767]],
  D:[[1237,767],[1560,583],[1560,1005],[1443,1023],[1243,822],[1229,775]],
  C1:[[1443,1023],[1560,1005],[1560,1179],[1407,1152]],
  C2:[[1407,1152],[1560,1179],[1560,1503],[1377,1500],[1316,1458]],
  C3:[[1377,1500],[1560,1503],[1560,1538],[1411,1557],[1373,1522]],
  C4:[[1316,1458],[1377,1500],[1373,1522],[1312,1472]],
  C5:[[1312,1472],[1373,1522],[1411,1557],[1411,1560],[1283,1560]],
  C6:[[1411,1557],[1560,1538],[1560,1560],[1411,1560]],
  M1:[[299,362],[479,424],[464,524],[397,919],[258,868],[67,713],[98,462]],
  M2:[[85,465],[98,462],[67,713],[7,717],[7,540]],
  M3:[[7,717],[67,713],[258,868],[7,958]],
  M4:[[7,958],[258,868],[397,919],[394,944],[58,1077],[7,1077]],
  M5:[[58,1077],[394,944],[546,1233],[526,1258]],
  M6:[[397,919],[537,938],[458,1025],[442,1030],[394,944]],
  M7:[[7,1077],[58,1077],[257,1155],[197,1251],[7,1227]],
  M8:[[7,1227],[197,1251],[205,1299],[142,1462],[7,1444]],
  M9:[[257,1155],[526,1258],[397,1442],[381,1441],[205,1299],[197,1251]],
  M10:[[205,1299],[381,1441],[167,1504],[149,1482],[142,1462]],
  M11:[[7,1444],[142,1462],[149,1482],[7,1503]],
  M12:[[7,1503],[149,1482],[167,1504],[162,1560],[7,1560]],
  M13:[[167,1504],[381,1441],[397,1442],[455,1538],[455,1560],[162,1560]],
  M14:[[397,1442],[526,1258],[584,1498],[455,1538]],
  M15:[[455,1538],[584,1498],[601,1560],[455,1560]],
  M16:[[526,1258],[546,1233],[777,1308],[686,1560],[601,1560]],
  M17:[[632,475],[1014,599],[1084,671],[1087,719],[910,982],[755,1013],[711,1003],[576,921],[505,654]],
  M18:[[1084,671],[1127,715],[1087,719]],
  M19:[[1087,719],[1127,715],[1384,966],[1122,1200],[975,1141],[922,1048],[910,982]],
  M20:[[479,424],[632,475],[505,654],[445,645]],
  M21:[[445,645],[505,654],[576,921],[537,938],[397,919]],
  M22:[[458,1025],[537,938],[576,921],[711,1003],[727,1046],[629,1259],[546,1233],[442,1030]],
  M23:[[711,1003],[755,1013],[755,1030],[727,1046]],
  M24:[[755,1013],[910,982],[922,1048],[755,1030]],
  M25:[[727,1046],[755,1030],[922,1048],[975,1141],[975,1284],[777,1308],[629,1259]],
  M26:[[975,1141],[1122,1200],[1037,1278],[975,1284]],
  M27:[[1037,1278],[1122,1200],[1384,966],[1443,1023],[1283,1560],[1144,1560]],
  M28:[[777,1308],[835,1302],[746,1396]],
  M29:[[835,1302],[884,1297],[900,1560],[735,1560],[706,1512],[746,1396]],
  M30:[[706,1512],[735,1560],[688,1560]],
  M31:[[884,1297],[1037,1278],[1144,1560],[900,1560]]
};

const nmColors = ['#a00b12','#b01814','#be1e12','#d93338','#ea3f45','#dd2545'];
const regionColors = {
  E1:['#5f9fe0','#6ca8ea','#78b0f0','#80b8fa','#9ccfff'], E2:['#00b0c8','#08bcd4','#0ccae0','#20d8f0','#48eeff'], E3:['#00a5ad','#00b5b5','#12c4bf','#2ecfcb','#40e0da'],
  B0:['#833c00','#8a4000','#8e4204','#974810','#9a4a10'], HD:['#5f5f6a','#6a6a75','#75737d','#827f88','#8f8a8a'], NM:nmColors,
  G1:['#4068e0','#4a72ec','#5a78ee','#6a85ff','#7490ff'], G2:['#4058d8','#5060e0','#5a68ea','#6a70f0','#7078f8'], G3:['#4a78f5'],
  G4:['#4462dc','#5068ea','#5a70f0','#6a78fa','#7a80ff'], G5:['#3f55c8','#4a60d0','#5870e0','#6880f0','#7088f8'], G6:['#3868d0','#4070d8','#5080e8','#6088f0','#6c88f8'],
  G7:['#4058b8','#4a60c8','#5868d8','#6068dc','#6a6adf'], G8:['#3a6ae0','#4070e8','#4a7af0','#6088ff','#7a95ff'],
  G9a:['#80b8ea','#8cbff0','#98c8f8','#a0ceff','#b8e0ff'], G9b:['#78b8f0','#88c0f8','#90c8ff','#98d0ff','#aeddff'], G9c:['#78b8e0','#88c8f0','#90d0f8','#98d8ff','#a8e0ff'],
  G9d:['#6cb0e0','#78bce8','#8accf0','#98d8fc','#b0eeff'], G9e:['#70b0dc','#90d0f0','#9ad8f8','#a2defc','#b0f0ff'], G9f:['#80a8e0','#88b0ea','#90b8f0','#a0c0f8','#a8c8ff'],
  G9g:['#70b0e8','#78b8f0','#88c8f8','#98d8ff','#a8e8ff'], G9h:['#68a0e0','#70a8e8','#90c0ff','#90c0ff','#90c0ff'], G9i:['#70a8e0','#80b8f0','#88c0f0','#90c8f8','#98d0ff'],
  G10:['#4a88e0','#5a98e0','#68a0f0','#70acf4','#90c8ff'], G11:['#78b4f0'], G12:['#5c9cf0','#68a0f0','#6ca4f0','#78aaff','#80b0ff'],
  G13:['#4488c8','#5a9ce0','#68a4e8','#80b0f0','#85b8f8'], G14:['#5a9de0','#60a4e4','#6ab0ec','#80b8ff','#9fd0ff'], G15:['#5a9ad8','#60a0e0','#72b0ea','#80b8f4','#8cc0ff'],
  Pa:['#4c48b8','#5050c0','#5858c8','#5c5cd0','#6060d8'], Pb:['#4a4db8','#5052c0','#5a58c8','#6260d0','#6a60dc'],
  D:['#3046bc','#3e4ec4','#4650cc','#4e58d4','#5c62de'],
  C1:nmColors, C2:['#c8002f','#d80a30','#e81838','#f52a40','#ff3348','#ff0a28'], C3:['#e8001e','#f00822','#f81028','#ff1828','#ff2030','#ff0a28'], C4:['#d0002f','#d0002f'],
  C5:['#c81038','#d81840','#e02840','#e83248','#f53548'], C6:nmColors,
  M1:['#7e3400','#8a3a00','#944000','#9a4708','#a54f10'], M2:['#6e2a00','#7a3000','#843405','#8c3a10','#843c15'], M3:['#4060e0','#5570ee','#5d6ff0','#6a78ff','#7880ff'],
  M4:['#7a3200','#843800','#8c3c00','#944000','#9a4708'], M5:['#4455d8','#5565e8','#6068ee','#6a70f8','#7078ff'], M6:['#8a4a1a','#964f1e','#a05622','#a55a25','#a55a25'],
  M7:['#a05a10','#b06010','#b86a20','#c8742a','#e08a30'], M8:['#8a4f15','#9a5518','#a86020','#b86a28','#c4702e'], M9:['#8a4a1a','#96501c','#a05a22','#aa5e30','#ac6535'],
  M10:['#4870e0','#5878f0','#6070f0','#6a78ff','#7078ff'], M11:['#a84020','#b04a25','#b85030','#c06035','#c06035'], M12:['#b84a18','#c0501f','#c85a30','#d86835','#e46238'],
  M13:['#a05008','#b05a0a','#b86410','#c86a20','#d07025'], M14:['#8a4a1a','#965020','#a05a28','#aa5e30','#d88a3c'], M15:['#9a5010','#b06018','#bb6420','#c46a28'],
  M16:['#7c3200','#883a00','#904000','#984205','#a04810'], M17:['#dda000','#eeaa0e','#f8b420','#fec43a','#ffd838'], M18:['#e89520','#e89520'],
  M19:['#c48600','#dc9600','#eaa315','#f9b024','#ffb428'], M20:['#b87500','#d08010','#d89020','#e89a30','#f4a535'], M21:['#d07800','#e88a00','#f09a10','#fa9f1e','#ffa830'],
  M22:['#b88008','#c88e08','#dca020','#e8a830','#f8b838'], M23:['#f09010','#f09010','#f09010','#f09010'], M24:['#e08810','#e89015','#f09a20','#f8a028'],
  M25:['#d07800','#d88410','#e89020','#f59a28','#ffab33'], M26:['#884a1a','#965020','#a05a28','#a85e30','#ac6034'], M27:['#b89855','#c8a65f','#d8ae68','#ecc078','#ffd088'],
  M28:['#b87035','#c07838','#c87a3a','#c87a3a'], M29:['#dfa000','#eca80a','#f4b01a','#ffb828','#ffc440'], M30:['#dea040'],
  M31:['#b87a30','#c8843a','#d88f42','#e89d50','#ffa860','#00c8c8','#2cd0cc','#3cd8d0','#00b8b8']
};

const sectionNames = ['NM','HD'];
const sectionOutlines = [
  [[7,7],[456,7],[373,191],[282,150],[296,361],[85,465],[7,418]],
  [[905,7],[1560,7],[1560,422],[1229,775],[1243,822],[1181,761],[1015,598]],
  [[1229,775],[1560,422],[1560,1005],[1443,1023],[1243,822]],
  [[1443,1023],[1560,1005],[1560,1560],[1283,1560]]
];
const heavyRegions = ['M16','M1','M4','M19','M25','M27','M29','M31','E1','G9d','G9g','G10','G14','G8','G4','C2','C5','M13','M9','M22'];

const labelTexts = ['Not','Mapped','Metabolism','Genetic','Information','Processing','Environmental','Information','Processing','Human','Diseases','Cellular','Processes'];
const labelX = [1078,1066,1097,2052,2052,2046,273,273,273,49,49,2339,2339];
const labelY = [402,551,1832,601,712,825,274,329,385,757,771,2166,2213];
const labelSizes = [147,147,273,111,111,111,55,55,55,16.5,16.5,46,46];
const labelWeights = ['bold','bold','bold','bold','bold','bold','bold','bold','bold','normal','normal','bold','bold'];

// ---- build the cells ----
const toFull = p => ({ x: p[0] * previewScale, y: p[1] * previewScale });

function insidePoly(pt, poly) {
  let hit = false;
  for (let i = 0, j = poly.length - 1; i < poly.length; j = i++) {
    if ((poly[i].y > pt.y) !== (poly[j].y > pt.y) &&
        pt.x < (poly[j].x - poly[i].x) * (pt.y - poly[i].y) / (poly[j].y - poly[i].y) + poly[i].x) hit = !hit;
  }
  return hit;
}

// keep the part of poly closer to a than to b
function clipBisector(poly, a, b) {
  const mx = (a.x + b.x) / 2, my = (a.y + b.y) / 2, nx = b.x - a.x, ny = b.y - a.y;
  const side = p => (p.x - mx) * nx + (p.y - my) * ny;
  const out = [];
  for (let i = 0; i < poly.length; i++) {
    const p = poly[i], q = poly[(i + 1) % poly.length], sp = side(p), sq = side(q);
    if (sp <= 0) out.push(p);
    if ((sp < 0 && sq > 0) || (sp > 0 && sq < 0)) {
      const t = sp / (sp - sq);
      out.push({ x: p.x + (q.x - p.x) * t, y: p.y + (q.y - p.y) * t });
    }
  }
  return out;
}

const regionNames = Object.keys(regionShapes);
const fullShapes = {};
const regionSeeds = {};
regionNames.forEach(n => { fullShapes[n] = regionShapes[n].map(toFull); regionSeeds[n] = []; });

cropSeeds.forEach((list, c) => {
  list.forEach(s => {
    const pt = { x: cropOrigins[c][0] + s[0] * cropScale, y: cropOrigins[c][1] + s[1] * cropScale, shade: s[2] };
    const name = regionNames.find(n => insidePoly(pt, fullShapes[n]));
    if (name) regionSeeds[name].push(pt);
  });
});

const closed = pts => pts.concat([pts[0]]);
const lineSet = (pts, width) => ({
  data: closed(pts), showLine: true, fill: false, borderColor: '#000', borderWidth: width,
  pointRadius: 0, tension: 0, borderJoinStyle: 'miter', clip: false
});

// first dataset ends up on top
const datasets = [];
datasets.push(lineSet([{x:6,y:6},{x:2506,y:6},{x:2506,y:2506},{x:6,y:2506}], 12));
sectionNames.forEach(n => datasets.push(lineSet(fullShapes[n], 7.5)));
sectionOutlines.forEach(o => datasets.push(lineSet(o.map(toFull), 7.5)));
heavyRegions.forEach(n => datasets.push(lineSet(fullShapes[n], 5)));
regionNames.forEach(n => datasets.push(lineSet(fullShapes[n], 3.5)));

regionNames.forEach(n => {
  const seeds = regionSeeds[n], colors = regionColors[n];
  if (!seeds.length) seeds.push({ ...fullShapes[n].reduce((a, p, i, arr) => ({ x: a.x + p.x / arr.length, y: a.y + p.y / arr.length }), { x: 0, y: 0 }), shade: 0 });
  seeds.forEach(s => {
    let cell = fullShapes[n];
    seeds.forEach(o => { if (o !== s && cell.length) cell = clipBisector(cell, s, o); });
    if (cell.length < 3) return;
    datasets.push({
      data: closed(cell), showLine: true, fill: 'shape',
      backgroundColor: colors[Math.min(s.shade, colors.length - 1)],
      borderColor: '#000', borderWidth: 1.7, pointRadius: 0, tension: 0, clip: false
    });
  });
});

const labelPlugin = {
  id: 'regionLabels',
  afterDatasetsDraw(chart) {
    const c = chart.ctx, xs = chart.scales.x, ys = chart.scales.y;
    c.save();
    c.textAlign = 'center';
    c.textBaseline = 'alphabetic';
    c.fillStyle = '#fff';
    labelTexts.forEach((t, i) => {
      const size = labelSizes[i];
      c.font = labelWeights[i] + ' ' + size + 'px "DejaVu Sans"';
      c.shadowColor = 'rgba(0,0,0,0.5)';
      c.shadowOffsetX = size > 20 ? 2 : 1;
      c.shadowOffsetY = size > 20 ? 2 : 1;
      c.shadowBlur = 1;
      c.fillText(t, xs.getPixelForValue(labelX[i]), ys.getPixelForValue(labelY[i]));
    });
    c.restore();
  }
};

const ctx = document.getElementById('myChart').getContext('2d');
new Chart(ctx, {
  type: 'scatter',
  data: { datasets: datasets },
  options: {
    responsive: false,
    animation: false,
    layout: { padding: 0 },
    plugins: { legend: { display: false }, tooltip: { enabled: false } },
    scales: {
      x: { type: 'linear', min: 0, max: 2512, display: false },
      y: { type: 'linear', min: 0, max: 2512, reverse: true, display: false }
    }
  },
  plugins: [labelPlugin]
});
</script>
</body>
</html>
